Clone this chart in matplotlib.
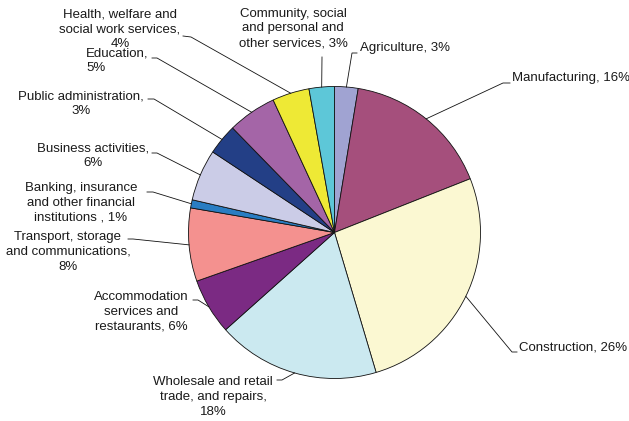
import matplotlib.pyplot as plt
import numpy as np

plt.rcParams['font.family'] = ['Liberation Sans', 'DejaVu Sans']

W, H = 629, 421

# sector shares of employment (%), clockwise from 12 o'clock
sectors = [
    "Agriculture",
    "Manufacturing",
    "Construction",
    "Wholesale and retail\ntrade, and repairs",
    "Accommodation\nservices and\nrestaurants",
    "Transport, storage\nand communications",
    "Banking, insurance\nand other financial\ninstitutions ",
    "Business activities",
    "Public administration",
    "Education",
    "Health, welfare and\nsocial work services",
    "Community, social\nand personal and\nother services",
]
shares = [2.6, 16.4, 26.4, 18.0, 6.2, 8.1, 0.9, 5.7, 3.4, 5.4, 4.1, 2.8]
seps = [", ", ", ", ", ", ",\n", ", ", ",\n", ", ", ",\n", ",\n", ",\n", ",\n", ", "]
colors = ["#A0A3D2", "#A54F7C", "#FBF8D2", "#CBE9F0", "#7B2A83", "#F4918F",
          "#2A7DC2", "#CBCCE7", "#233F86", "#A465A7", "#EEE935", "#5DC7D8"]

# label placement in pixels: text anchor, alignment, leader end and elbow
label_pos = [
    ((360, 48), "left", (357, 53), (352, 53)),
    ((512, 78), "left", (510, 83), (503, 83)),
    ((519, 348), "left", (517, 352), (512, 352)),
    ((213, 397), "center", (277, 380), (282, 380)),
    ((141, 312), "center", (193, 300), (198, 300)),
    ((68, 252), "center", (128, 239), (133, 239)),
    ((81, 202.5), "center", (147, 192), (153, 192)),
    ((93, 155.5), "center", (152, 153), (157, 153)),
    ((81, 103.5), "center", (148, 99), (154, 99)),
    ((86, 61), "left", (152, 58), (157, 58)),
    ((120, 29), "center", (183, 36), (191, 37)),
    ((293, 28.5), "center", (322, 57), (322, 57)),
]


def px(x, y):
    return x, H - y


fig = plt.figure(figsize=(W / 100, H / 100), dpi=100)
ax = fig.add_axes([0, 0, 1, 1])

cx, cy = px(334.5, 232.5)
r = 146
wedges, _ = ax.pie(shares, colors=colors, startangle=90, counterclock=False,
                   center=(cx, cy), radius=r,
                   wedgeprops=dict(edgecolor="#111111", linewidth=0.6))

for w, name, val, sep, (tpos, ha, end, elbow) in zip(wedges, sectors, shares, seps, label_pos):
    mid = np.deg2rad((w.theta1 + w.theta2) / 2)
    rim = (cx + r * np.cos(mid), cy + r * np.sin(mid))
    ex, ey = px(*end)
    bx, by = px(*elbow)
    ax.plot([ex, bx, rim[0]], [ey, by, rim[1]], color="#111111", linewidth=0.6,
            solid_joinstyle="miter")
    ax.text(*px(*tpos), f"{name}{sep}{val:.0f}%", ha=ha, va="center",
            multialignment=ha, fontsize=9.5, color="#1a1a1a", linespacing=1.32)

ax.set_xlim(0, W)
ax.set_ylim(0, H)
ax.set_aspect("equal")
ax.axis("off")

fig.savefig("out.png", dpi=100)
